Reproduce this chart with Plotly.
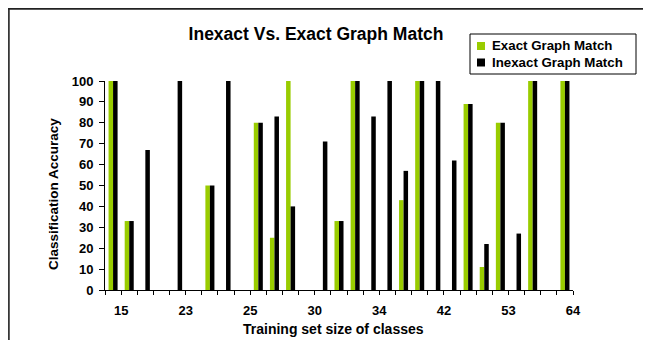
import plotly.graph_objects as go

# ---- data ----
positions = list(range(1, 30))  # 29 category slots
exact_match = [100, 33, 0, 0, 0, 0, 50, 0, 0, 80, 25, 100, 0, 0, 33,
               100, 0, 0, 43, 100, 0, 0, 89, 11, 80, 0, 100, 0, 100]
inexact_match = [100, 33, 67, 0, 100, 0, 50, 100, 0, 80, 83, 40, 0, 71, 33,
                 100, 83, 100, 57, 100, 100, 62, 89, 22, 80, 27, 100, 0, 100]
tick_labels = ["15", "23", "25", "30", "34", "42", "53", "64"]
label_slots = [1, 5, 9, 13, 17, 21, 25, 29]
series_names = ["Exact Graph Match", "Inexact Graph Match"]

GREEN = "#99CC00"
BLACK = "#000000"
FONT = "Liberation Sans, Arial, sans-serif"

# tick marks at every category boundary, labels at selected boundaries
tickvals = [p + 0.5 for p in [0] + positions]
ticktext = [""] * len(tickvals)
for lab, slot in zip(tick_labels, label_slots):
    ticktext[slot] = lab

# page offset (body margin) so window coords map to figure coords
OFF = 8
W, H = 640, 332
PL, PR, PT, PB = 105, 573, 81, 290   # plot area in window coords
L, R, T, B = PL - OFF, W - (PR - OFF), PT - OFF, H - (PB - OFF)
pw, ph = PR - PL, PB - PT

def px(x):
    return (x - PL) / pw

def py(y):
    return (PB - y) / ph

fig = go.Figure()
for name, vals, col in zip(series_names, [exact_match, inexact_match], [GREEN, BLACK]):
    fig.add_trace(go.Bar(x=positions, y=vals, name=name,
                         marker=dict(color=col, line=dict(width=0))))

bx, by = OFF + 0.9, OFF + 0.9
shapes = [
    # outer chart border: top and left edges (others run off the page)
    dict(type="line", xref="paper", yref="paper",
         x0=px(bx - 0.8), y0=py(by), x1=px(OFF + W + 20), y1=py(by),
         line=dict(color="#222222", width=1.6), layer="below"),
    dict(type="line", xref="paper", yref="paper",
         x0=px(bx), y0=py(by - 0.8), x1=px(bx), y1=py(OFF + H + 20),
         line=dict(color="#222222", width=1.6), layer="below"),
    # legend box
    dict(type="rect", xref="paper", yref="paper",
         x0=px(470), y0=py(74), x1=px(636), y1=py(34),
         line=dict(color="black", width=1), fillcolor="white"),
]
annotations = [
    dict(text="Classification Accuracy", xref="paper", yref="paper",
         x=px(53), y=py(194), textangle=-90, showarrow=False,
         xanchor="center", yanchor="middle", font=dict(size=13.5)),
    dict(text="Training set size of classes", xref="paper", yref="paper",
         x=px(333), y=py(329), showarrow=False,
         xanchor="center", yanchor="middle", font=dict(size=14)),
]
for i, (name, col) in enumerate(zip(series_names, [GREEN, BLACK])):
    yc = 46 + i * 16.5
    shapes.append(dict(type="rect", xref="paper", yref="paper",
                       x0=px(477), x1=px(485), y0=py(yc + 4), y1=py(yc - 4),
                       line=dict(width=0), fillcolor=col))
    annotations.append(dict(text=name, xref="paper", yref="paper",
                            x=px(490), y=py(yc), showarrow=False,
                            xanchor="left", yanchor="middle",
                            font=dict(size=13.3)))

fig.update_layout(
    width=W, height=H,
    margin=dict(l=L, r=R, t=T, b=B, autoexpand=False),
    paper_bgcolor="white", plot_bgcolor="white",
    font=dict(family=FONT, size=13, color="black", weight="bold"),
    barmode="group", bargap=0.44, bargroupgap=0,
    title=dict(text="Inexact Vs. Exact Graph Match", x=(316 - OFF) / W, xanchor="center",
               y=1 - (34 - OFF) / H, yanchor="middle",
               font=dict(family=FONT, size=17.5, color="black", weight="bold")),
    showlegend=False,
    xaxis=dict(range=[0.5, 29.5], tickmode="array", tickvals=tickvals, ticktext=ticktext,
               showline=True, linecolor="black", linewidth=1, ticks="outside",
               ticklen=4, tickcolor="black", tickwidth=1, showgrid=False, zeroline=False,
               tickfont=dict(size=13), tickangle=0, ticklabelstandoff=4),
    yaxis=dict(range=[0, 100], dtick=10, tick0=0, showline=True, linecolor="black",
               linewidth=1, ticks="outside", ticklen=5, tickcolor="black", tickwidth=1,
               showgrid=False, zeroline=False, tickfont=dict(size=13), ticklabelstandoff=3),
    annotations=annotations,
    shapes=shapes,
)

fig.write_html("out.html")
